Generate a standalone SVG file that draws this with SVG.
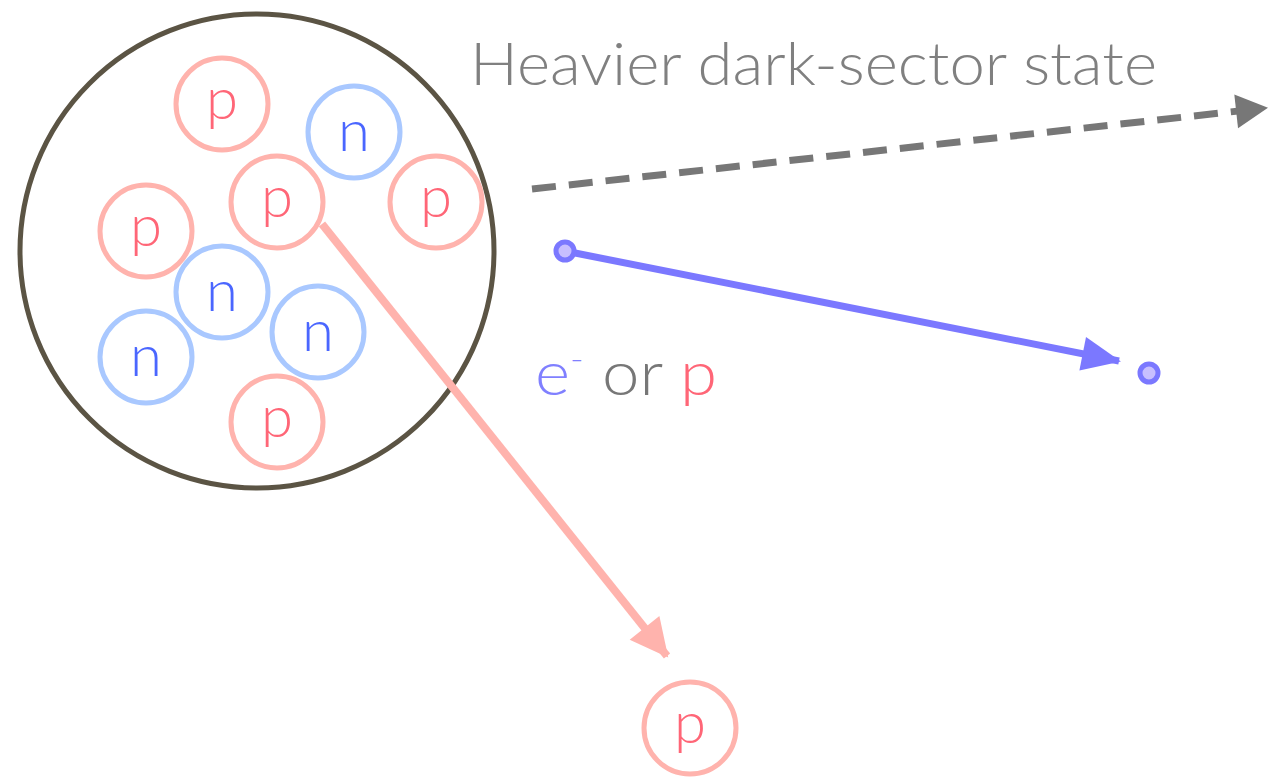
<svg xmlns="http://www.w3.org/2000/svg" width="1269" height="778" viewBox="0 0 1269 778">
<style>
.t{font-family:Lato,"Open Sans","Liberation Sans",sans-serif;font-weight:300}
.pc{fill:none;stroke:#ffb3ad;stroke-width:5}
.nc{fill:none;stroke:#a9c8ff;stroke-width:5}
.pt{fill:#ff6677;font-size:58px;text-anchor:middle}
.nt{fill:#4a66ff;font-size:58px;text-anchor:middle}
.dot{fill:#c8bfff;stroke:#7b78ff;stroke-width:5}
</style>
<defs>
<marker id="ap" markerUnits="userSpaceOnUse" markerWidth="44" markerHeight="44" refX="40" refY="22" orient="auto" viewBox="0 0 44 44"><path d="M4,3 L42,22 L4,41 Z" fill="#ffb3ad"/></marker>
<marker id="ab" markerUnits="userSpaceOnUse" markerWidth="44" markerHeight="44" refX="40" refY="22" orient="auto" viewBox="0 0 44 44"><path d="M3,5 L42,22 L3,39 Z" fill="#7b78ff"/></marker>
<marker id="ag" markerUnits="userSpaceOnUse" markerWidth="44" markerHeight="44" refX="40" refY="22" orient="auto" viewBox="0 0 44 44"><path d="M10,5 L42,22 L10,39 Z" fill="#777777"/></marker>
</defs>
<g id="nucleus">
<circle cx="257" cy="251" r="237" fill="none" stroke="#5b5444" stroke-width="5"/>
</g>
<g id="p1"><circle class="pc" cx="222" cy="104" r="46"/><text class="t pt" x="222" y="119">p</text></g>
<g id="n1"><circle class="nc" cx="354" cy="132" r="46"/><text class="t nt" x="354" y="151">n</text></g>
<g id="p2"><circle class="pc" cx="277" cy="202" r="46"/><text class="t pt" x="277" y="217">p</text></g>
<g id="p3"><circle class="pc" cx="436" cy="202" r="46"/><text class="t pt" x="436" y="217">p</text></g>
<g id="p4"><circle class="pc" cx="146" cy="231" r="46"/><text class="t pt" x="146" y="246">p</text></g>
<g id="n2"><circle class="nc" cx="222" cy="292" r="46"/><text class="t nt" x="222" y="311">n</text></g>
<g id="n3"><circle class="nc" cx="146" cy="357" r="46"/><text class="t nt" x="146" y="376">n</text></g>
<g id="n4"><circle class="nc" cx="318" cy="332" r="46"/><text class="t nt" x="318" y="351">n</text></g>
<g id="p5"><circle class="pc" cx="277" cy="422" r="46"/><text class="t pt" x="277" y="437">p</text></g>
<g id="p6"><circle class="pc" cx="690" cy="728" r="46"/><text class="t pt" x="690" y="743">p</text></g>
<g id="connectors">
<line x1="322" y1="224" x2="667" y2="656" stroke="#ffb3ad" stroke-width="8" marker-end="url(#ap)"/>
<line x1="565" y1="251" x2="1119" y2="361" stroke="#7b78ff" stroke-width="7" marker-end="url(#ab)"/>
<line x1="532" y1="189" x2="1266" y2="108" stroke="#777777" stroke-width="7" stroke-dasharray="24 13" marker-end="url(#ag)"/>
</g>
<g id="e-start"><circle class="dot" cx="565" cy="251" r="9"/></g>
<g id="e-end"><circle class="dot" cx="1149" cy="373" r="9"/></g>
<g id="label-heavier"><text class="t" x="470" y="85" font-size="60" fill="#808080" textLength="687" lengthAdjust="spacingAndGlyphs">Heavier dark-sector state</text></g>
<g id="label-eorp"><text class="t" x="535" y="395" font-size="62" textLength="182" lengthAdjust="spacingAndGlyphs"><tspan fill="#8080ff">e</tspan><tspan fill="#8080ff" font-size="34" dy="-24">-</tspan><tspan fill="#777777" dy="24"> or </tspan><tspan fill="#ff6677">p</tspan></text></g>
</svg>
